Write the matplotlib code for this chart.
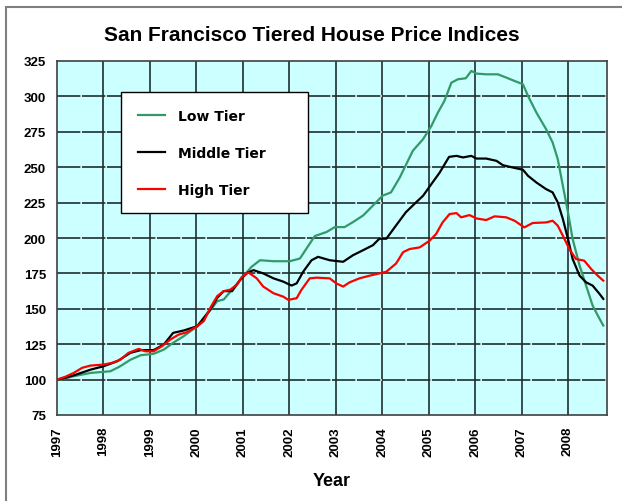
import matplotlib
matplotlib.use("Agg")
import matplotlib.pyplot as plt
from matplotlib.patches import Rectangle

plt.rcParams["font.family"] = ["Liberation Sans", "DejaVu Sans"]
plt.rcParams["font.weight"] = "bold"

# Low tier (green)
low_years = [1997.0, 1997.07, 1997.36, 1997.72, 1998.15, 1998.36, 1998.58, 1998.8,
             1999.08, 1999.3, 1999.5, 1999.73, 2000.02, 2000.23, 2000.45, 2000.59,
             2000.73, 2000.95, 2001.0, 2001.19, 2001.37, 2001.66, 2002.01, 2002.23,
             2002.37, 2002.55, 2002.8, 2002.98, 2003.19, 2003.37, 2003.59, 2003.87,
             2004.01, 2004.19, 2004.38, 2004.66, 2004.88, 2005.06, 2005.2, 2005.34,
             2005.49, 2005.63, 2005.8, 2005.92, 2006.03, 2006.24, 2006.49, 2006.67,
             2006.85, 2007.03, 2007.14, 2007.32, 2007.53, 2007.67, 2007.78, 2007.89,
             2008.0, 2008.1, 2008.25, 2008.39, 2008.53, 2008.68, 2008.76]
low_vals = [100, 100, 102.4, 104.7, 105.9, 109.4, 114, 117.2,
            118.2, 121.2, 126, 130.7, 137.7, 146, 155.4, 156.6,
            162, 170.7, 172.7, 179.7, 184.3, 183.6, 183.6, 185.5,
            192.5, 201.4, 204.2, 207.7, 207.7, 211.2, 215.9, 225.2,
            229.9, 232.2, 242.8, 261.6, 269.8, 279.2, 288.6, 296.8,
            309.7, 312.1, 312.8, 318, 316.1, 315.6, 315.6, 313.3,
            310.9, 308.6, 300.3, 288.6, 276.8, 267.4, 255.7, 236.9,
            218.1, 199.3, 180.5, 166.4, 152.3, 142.9, 138.2]

# Middle tier (black)
mid_years = [1997.0, 1997.15, 1997.36, 1997.72, 1998.0, 1998.3, 1998.58, 1998.8,
             1999.08, 1999.3, 1999.5, 1999.73, 2000.02, 2000.3, 2000.45, 2000.59,
             2000.77, 2000.95, 2001.1, 2001.23, 2001.44, 2001.66, 2001.87, 2002.05,
             2002.16, 2002.3, 2002.48, 2002.62, 2002.87, 2003.16, 2003.37, 2003.59,
             2003.8, 2003.94, 2004.09, 2004.3, 2004.51, 2004.73, 2004.88, 2005.06,
             2005.24, 2005.44, 2005.6, 2005.74, 2005.92, 2006.03, 2006.24, 2006.46,
             2006.6, 2006.81, 2007.03, 2007.14, 2007.32, 2007.53, 2007.67, 2007.78,
             2007.89, 2008.0, 2008.1, 2008.25, 2008.39, 2008.53, 2008.68, 2008.76]
mid_vals = [100, 101, 103, 107, 109.4, 113, 118.9, 120.8,
            120.8, 124.8, 133, 134.7, 137.7, 149.5, 157.8, 162.5,
            162.5, 170.7, 175.5, 177.3, 175, 171.5, 169.2, 166.4,
            168, 176.2, 184.3, 186.7, 184.3, 183.2, 187.8, 191.4,
            194.9, 199.5, 199.5, 208.9, 218.2, 225.2, 229.8, 238.1,
            246.3, 257.3, 258, 256.9, 258, 256.1, 256.1, 254.5,
            251.4, 249.8, 248.2, 243.9, 239.2, 234.5, 232.2, 225.1,
            213.4, 199.3, 185.2, 173.4, 168.7, 166.4, 160.5, 157]

# High tier (red)
high_years = [1997.0, 1997.18, 1997.36, 1997.54, 1997.72, 1998.0, 1998.18, 1998.36,
              1998.54, 1998.76, 1998.9, 1999.08, 1999.26, 1999.44, 1999.62, 1999.8,
              2000.02, 2000.16, 2000.3, 2000.45, 2000.59, 2000.73, 2000.88, 2000.98,
              2001.12, 2001.3, 2001.44, 2001.66, 2001.87, 2001.98, 2002.16, 2002.26,
              2002.44, 2002.59, 2002.87, 2003.01, 2003.16, 2003.3, 2003.51, 2003.73,
              2003.94, 2004.09, 2004.3, 2004.45, 2004.59, 2004.81, 2005.02, 2005.16,
              2005.3, 2005.45, 2005.6, 2005.7, 2005.88, 2006.03, 2006.24, 2006.42,
              2006.67, 2006.85, 2007.06, 2007.24, 2007.53, 2007.67, 2007.78, 2007.89,
              2008.03, 2008.17, 2008.35, 2008.5, 2008.64, 2008.76]
high_vals = [100, 102, 104.7, 108.3, 109.9, 110.6, 111.8, 114,
             118.9, 121.7, 120, 120, 123.6, 128.3, 131.8, 133.5,
             137.7, 141.3, 150.7, 159, 162.5, 163.5, 167.2, 172.5,
             175.7, 171.5, 165.7, 161, 158.6, 156.3, 157.5, 163.3,
             171.5, 172, 171.5, 168, 165.7, 168.7, 171.5, 173.4,
             175, 176.2, 182, 190, 192.2, 193.4, 198.1, 202.8,
             211, 216.9, 217.6, 214.6, 216.2, 213.8, 212.7, 215.3,
             214.6, 212.2, 207.5, 210.6, 211, 212.2, 208.7, 201.6,
             192.2, 185.2, 184, 178.1, 173.4, 169.9]

year_ticks = list(range(1997, 2009))
value_ticks = list(range(75, 326, 25))

fig = plt.figure(figsize=(6.22, 5.02), dpi=100)
ax = fig.add_axes([57 / 622, 86 / 502, 550 / 622, 354 / 502])
ax.set_facecolor("#ccffff")

# grid: solid verticals, dashed horizontals with light gaps
for yr in year_ticks[1:]:
    ax.axvline(yr, color="#1e2e2e", lw=1.2, zorder=1)
for v in value_ticks[1:-1]:
    ax.axhline(v, color="#1e2e2e", lw=1.2, ls=(0, (14, 1.0)), gapcolor="#d8eeee", zorder=1)

ax.plot(low_years, low_vals, color="#339966", lw=1.6, label="Low Tier", zorder=3)
ax.plot(mid_years, mid_vals, color="black", lw=1.6, label="Middle Tier", zorder=3)
ax.plot(high_years, high_vals, color="#ff0000", lw=1.6, label="High Tier", zorder=4)

ax.set_xlim(1997, 2008.84)
ax.set_ylim(75, 325)
ax.set_xticks(year_ticks)
ax.set_xticklabels([str(y) for y in year_ticks], rotation=90, fontsize=9.5, fontweight="bold")
ax.set_yticks(value_ticks)
ax.set_yticklabels([str(v) for v in value_ticks], fontsize=9.5, fontweight="bold")
ax.tick_params(axis="both", length=0)
ax.tick_params(axis="x", pad=8)
ax.tick_params(axis="y", pad=8)
for s in ax.spines.values():
    s.set_color("#404040")
    s.set_linewidth(1.2)

ax.set_xlabel("Year", fontsize=13, fontweight="bold", labelpad=12)
fig.text(0.502, 0.93, "San Francisco Tiered House Price Indices",
         ha="center", va="center", fontsize=15, fontweight="bold")

leg_h = 117 / 354
leg = ax.legend(loc="upper left", bbox_to_anchor=(64 / 550, 323 / 354 - leg_h, 187 / 550, leg_h),
                mode="expand", frameon=True, fancybox=False, edgecolor="black", framealpha=1,
                prop={"family": "DejaVu Sans", "weight": "bold", "size": 10},
                labelspacing=1.65, handlelength=2.0, handletextpad=0.9,
                borderpad=1.2, borderaxespad=0)
leg.get_frame().set_linewidth(1.0)

# outer frame (left/top visible)
fig.add_artist(Rectangle((6 / 622, -0.05), 1.2, 1.05 - 8 / 502, transform=fig.transFigure,
                         fill=False, edgecolor="#7f7f7f", lw=1.5))

fig.savefig("out.png", dpi=100)
